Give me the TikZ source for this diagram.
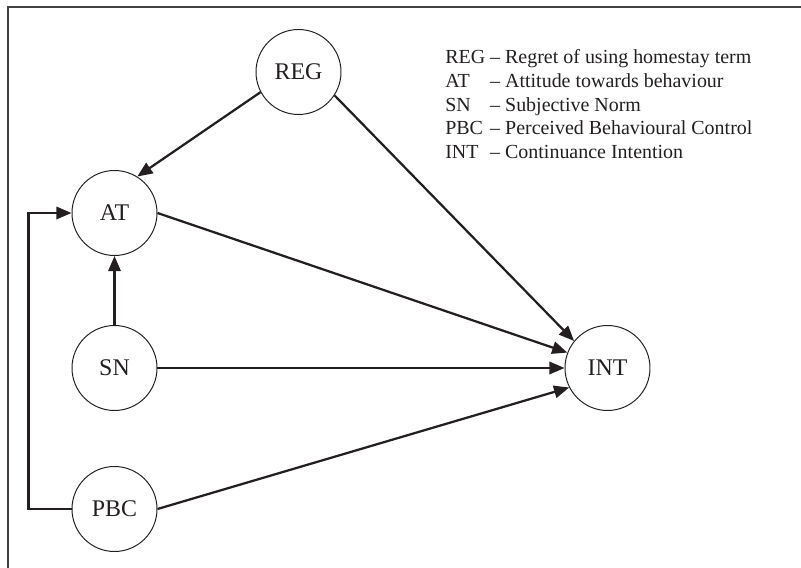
\documentclass[tikz,border=0pt]{standalone}
\usepackage{fontspec}
\setmainfont{Liberation Serif}
\usetikzlibrary{arrows.meta}
\definecolor{ink}{RGB}{35,31,32}
\tikzset{
    construct/.style={circle, draw=ink, line width=0.7pt, minimum size=2.125cm, inner sep=0pt,
        font=\fontsize{17}{20}\selectfont, text=ink},
    link/.style={draw=ink, line width=1.6pt, -{Triangle[length=0.38cm,width=0.31cm]}}
}
\begin{document}
\begin{tikzpicture}
        \useasboundingbox (0,0) rectangle (20.025,14.2);
        \draw [ink!85, line width=1pt] (0.2,0) -- (0.2,14.025) -- (20.025,14.025);

        \node [construct] (REG) at (7.4625,12.4) {REG};
        \node [construct] (AT) at (2.8625,8.875) {AT};
        \node [construct] (SN) at (2.8625,5) {SN};
        \node [construct] (PBC) at (2.8625,1.475) {PBC};
        \node [construct] (INT) at (15.1875,5) {INT};

        \draw [link] (REG.208) -- (AT.58);
        \draw [link] (REG.-33) -- (INT.141);
        \draw [link] (AT.east) -- (INT.159);
        \draw [link] (SN.east) -- (INT.west);
        \draw [link] (PBC.east) -- (INT.207);
        \draw [link] (SN.north) -- (AT.south);
        \draw [link] (PBC.west) -- ++(-1.075,0) |- (AT.west);

        \node [anchor=base west, inner sep=0pt, text=ink] (legend) at (11.125,12.6)
            {\fontsize{14.2}{16.8}\selectfont
            \begin{tabular}[t]{@{}l@{ }l@{}}
            REG & -- Regret of using homestay term\\
            AT  & -- Attitude towards behaviour\\
            SN  & -- Subjective Norm\\
            PBC & -- Perceived Behavioural Control\\
            INT & -- Continuance Intention
            \end{tabular}};
\end{tikzpicture}
\end{document}
